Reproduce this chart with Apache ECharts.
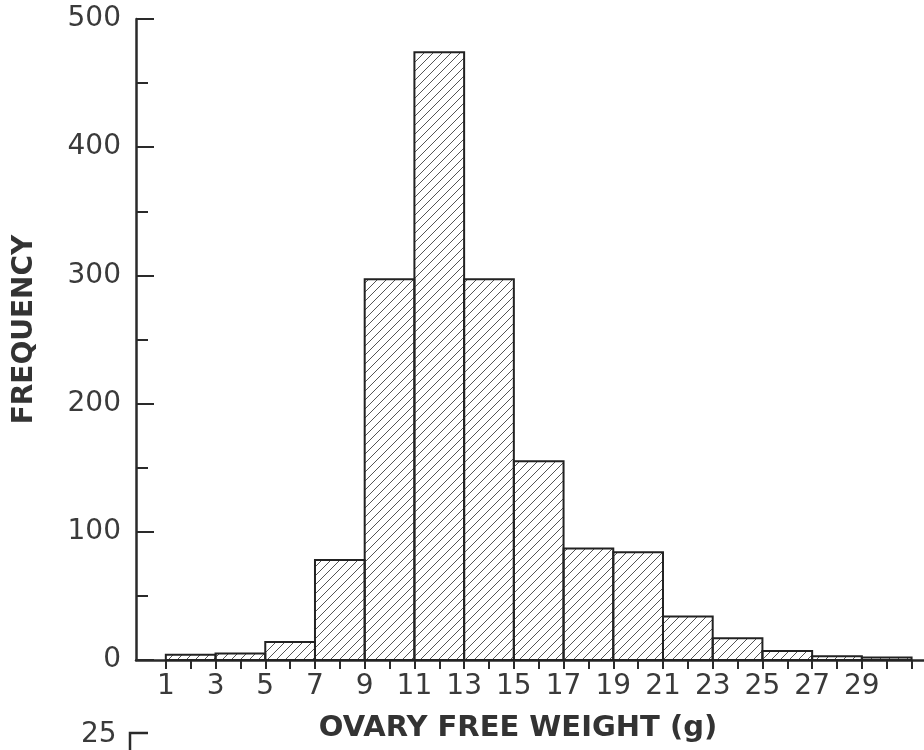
<!DOCTYPE html>
<html>
<head>
<meta charset="utf-8">
<script src="https://cdn.jsdelivr.net/npm/echarts@6/dist/echarts.min.js"></script>
<style>
  html, body { margin: 0; padding: 0; background: #fff; }
  #chart { width: 924px; height: 750px; }
</style>
</head>
<body>
<div id="chart"></div>
<script>
// bins of ovary free weight (g), width 2
const binStarts = [1, 3, 5, 7, 9, 11, 13, 15, 17, 19, 21, 23, 25, 27, 29];
const binWidth = 2;
const frequency = [4, 5, 14, 78, 297, 474, 297, 155, 87, 84, 34, 17, 7, 3, 2];
const xLabels = [1, 3, 5, 7, 9, 11, 13, 15, 17, 19, 21, 23, 25, 27, 29];
const xTicks = [1, 2, 3, 4, 5, 6, 7, 8, 9, 10, 11, 12, 13, 14, 15, 16, 17, 18, 19, 20, 21, 22, 23, 24, 25, 26, 27, 28, 29, 30, 31];

// diagonal hatch fill
function makeHatch(size) {
  const c = document.createElement('canvas');
  c.width = size; c.height = size;
  const ctx = c.getContext('2d');
  ctx.strokeStyle = '#555';
  ctx.lineWidth = 1;
  ctx.beginPath();
  ctx.moveTo(0, size); ctx.lineTo(size, 0);
  ctx.moveTo(-1, 1); ctx.lineTo(1, -1);
  ctx.moveTo(size - 1, size + 1); ctx.lineTo(size + 1, size - 1);
  ctx.stroke();
  return c;
}
const hatch = { image: makeHatch(9), repeat: 'repeat' };

const data = binStarts.map((s, i) => [s, s + binWidth, frequency[i]]);

const chart = echarts.init(document.getElementById('chart'));
const axisColor = '#2a2a2a';
const labelFont = { fontFamily: 'DejaVu Sans', fontSize: 28, color: '#3a3a3a' };

chart.setOption({
  animation: false,
  grid: { left: 136, right: 0, top: 19, bottom: 90 },
  xAxis: {
    type: 'value',
    min: -0.2,
    max: 31.5,
    name: 'OVARY FREE WEIGHT (g)',
    nameLocation: 'middle',
    nameGap: 54,
    nameTextStyle: {
      fontFamily: 'DejaVu Sans', fontWeight: 'bold', fontSize: 29, color: '#333',
      padding: [0, 24, 0, 0]
    },
    splitLine: { show: false },
    axisLine: { lineStyle: { color: axisColor, width: 2.5 } },
    axisTick: { customValues: xTicks, length: 9, lineStyle: { color: axisColor, width: 2 } },
    axisLabel: Object.assign({ customValues: xLabels, margin: 13 }, labelFont)
  },
  yAxis: {
    type: 'value',
    min: 0,
    max: 500,
    interval: 100,
    name: 'FREQUENCY',
    nameLocation: 'middle',
    nameRotate: 90,
    nameGap: 97,
    nameTextStyle: {
      fontFamily: 'DejaVu Sans', fontWeight: 'bold', fontSize: 28, color: '#333',
      padding: [0, 0, 0, 20]
    },
    splitLine: { show: false },
    axisLine: { show: true, onZero: false, lineStyle: { color: axisColor, width: 2.5 } },
    axisTick: { inside: true, length: 18, lineStyle: { color: axisColor, width: 2 } },
    minorTick: { show: true, splitNumber: 2, length: 12, lineStyle: { color: axisColor, width: 2 } },
    axisLabel: Object.assign({ margin: 15 }, labelFont)
  },
  series: [{
    type: 'custom',
    data: data,
    encode: { x: [0, 1], y: 2 },
    renderItem: function (params, api) {
      const top = api.coord([api.value(0), api.value(2)]);
      const bottom = api.coord([api.value(1), 0]);
      return {
        type: 'rect',
        shape: { x: top[0], y: top[1], width: bottom[0] - top[0], height: bottom[1] - top[1] },
        style: { fill: hatch, stroke: '#222', lineWidth: 2 }
      };
    }
  }],
  // top of the next panel, cut off by the page edge
  graphic: [
    { type: 'text', left: 81, top: 721, style: { text: '25', font: '28px "DejaVu Sans"', fill: '#3a3a3a' } },
    { type: 'polyline', shape: { points: [[130, 750], [130, 733], [148, 733]] },
      style: { stroke: axisColor, lineWidth: 2.5, fill: null } }
  ]
});
</script>
</body>
</html>
